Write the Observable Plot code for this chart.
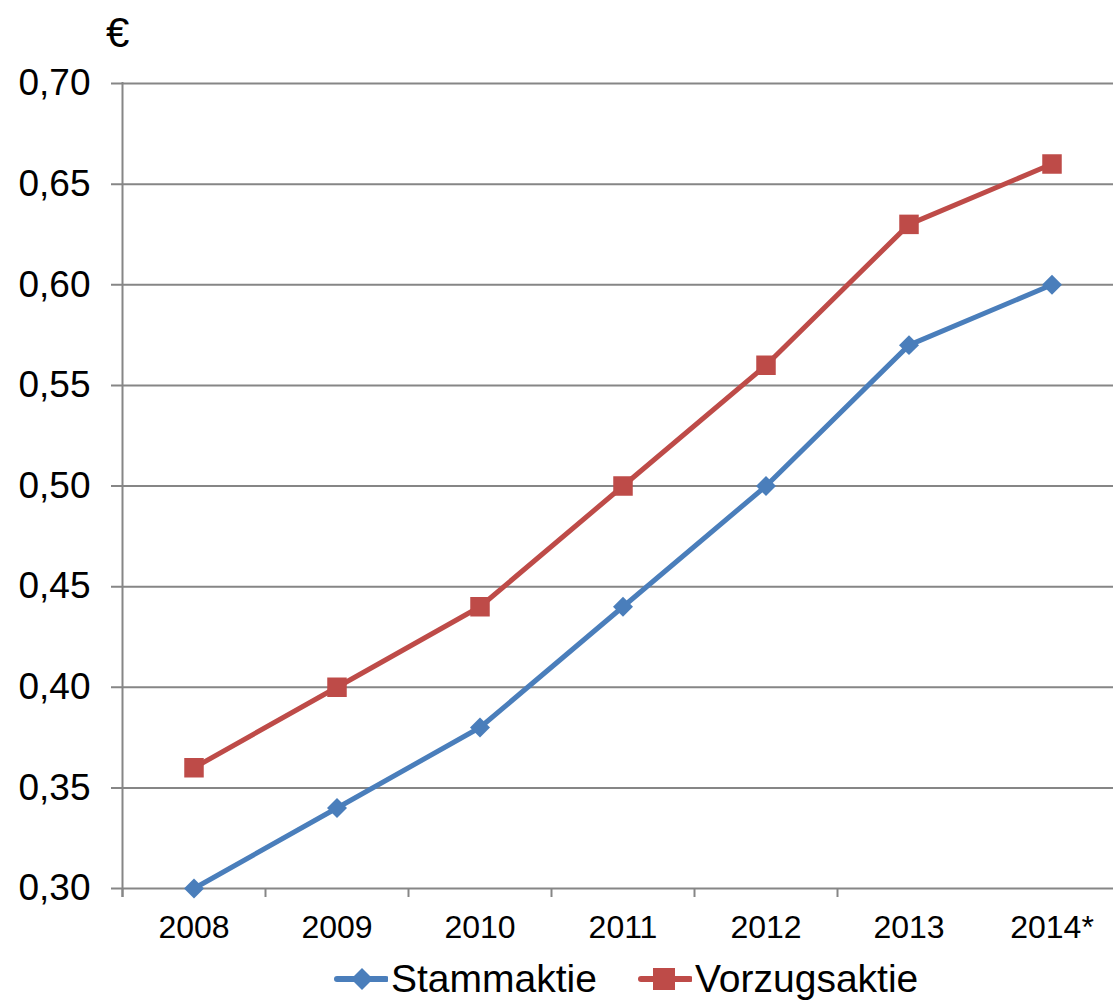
<!DOCTYPE html>
<html><head><meta charset="utf-8">
<script src="https://cdn.jsdelivr.net/npm/d3@7"></script>
<script src="https://cdn.jsdelivr.net/npm/@observablehq/plot@0.6"></script>
<style>
body{margin:0;background:#fff;font-family:"Liberation Sans",Arial,sans-serif;overflow:hidden;}
#unit{position:absolute;left:106px;top:12px;font-size:42px;color:#000;line-height:1;}
#chart{position:absolute;left:0;top:60px;}
#legend{position:absolute;left:0;top:954px;width:1113px;height:50px;font-size:39px;color:#000;}
.item{position:absolute;top:0;display:flex;align-items:center;height:50px;}
.item svg{margin-right:3px;}
</style></head>
<body>
<div id="unit">€</div>
<div id="chart"></div>
<div id="legend"></div>
<script>
const years = ["2008","2009","2010","2011","2012","2013","2014*"];
const stamm = [0.30,0.34,0.38,0.44,0.50,0.57,0.60];
const vorzug = [0.36,0.40,0.44,0.50,0.56,0.63,0.66];
const yTicks = [0.30,0.35,0.40,0.45,0.50,0.55,0.60,0.65,0.70];
const seriesNames = ["Stammaktie","Vorzugsaktie"];
const colors = ["#4A7EBB","#BE4B48"];

const idx = years.map((_, i) => i);
const boundaries = idx.slice(0, -1).map(i => i - 0.5);
const dS = idx.map(i => ({i, v: stamm[i]}));
const dV = idx.map(i => ({i, v: vorzug[i]}));
const fmt = d => d.toFixed(2).replace(".", ",");

const chart = Plot.plot({
  width: 1113,
  height: 890,
  marginLeft: 122,
  marginRight: -10,
  marginTop: 23,
  marginBottom: 62,
  style: {fontFamily: "'Liberation Sans', Arial, sans-serif", background: "transparent", overflow: "visible"},
  x: {type: "linear", domain: [-0.5, 6.5]},
  y: {domain: [0.30, 0.70]},
  marks: [
    Plot.ruleY(yTicks, {stroke: "#868686", strokeWidth: 2, insetLeft: -11}),
    Plot.ruleX([-0.5], {y1: 0.70, y2: 0.30, stroke: "#868686", strokeWidth: 2, insetTop: -1, insetBottom: -9}),
    Plot.axisX({ticks: boundaries, tickSize: 9, tickFormat: () => "", stroke: "#868686", strokeWidth: 2, strokeOpacity: 1, label: null}),
    Plot.axisX({ticks: idx, tickSize: 0, tickPadding: 27, tickFormat: i => years[i], fontSize: 32, fill: "#000", label: null}),
    Plot.axisY({ticks: yTicks, tickSize: 0, tickPadding: 32, tickFormat: fmt, fontSize: 37, fill: "#000", label: null}),
    Plot.line(dV, {x: "i", y: "v", stroke: colors[1], strokeWidth: 5}),
    Plot.line(dS, {x: "i", y: "v", stroke: colors[0], strokeWidth: 5}),
    Plot.dot(dV, {x: "i", y: "v", symbol: "square", r: 11, fill: colors[1], stroke: "none"}),
    Plot.dot(dS, {x: "i", y: "v", symbol: "diamond2", r: 9, fill: colors[0], stroke: "none"})
  ]
});
document.getElementById("chart").appendChild(chart);

// legend
const legend = document.getElementById("legend");
const lefts = [334, 638];
seriesNames.forEach((name, k) => {
  const item = document.createElement("div");
  item.className = "item";
  item.style.left = lefts[k] + "px";
  const sym = k === 0
    ? `<polygon points="28,13 39,24 28,35 17,24" fill="${colors[0]}"/>`
    : `<rect x="15" y="13" width="22" height="22" fill="${colors[1]}"/>`;
  item.innerHTML = `<svg width="54" height="48"><line x1="3" y1="24" x2="52" y2="24" stroke="${colors[k]}" stroke-width="6" stroke-linecap="round"/>${sym}</svg><span>${name}</span>`;
  legend.appendChild(item);
});
</script>
</body></html>
